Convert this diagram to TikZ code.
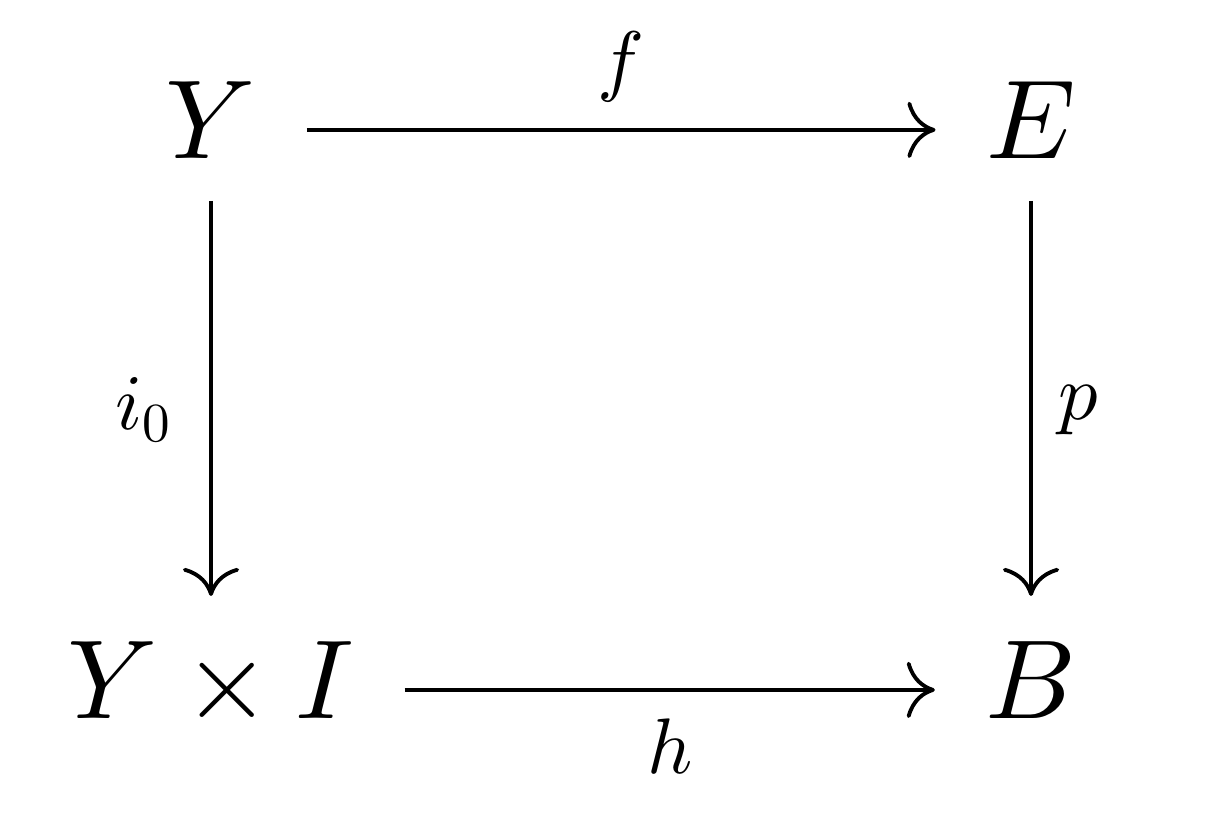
\documentclass[tikz,border=0pt]{standalone}
\usetikzlibrary{arrows.meta}
\DeclareFontShape{OML}{cmm}{m}{it}{<->cmmi10}{\skewchar\font'177}
\DeclareFontShape{OMS}{cmsy}{m}{n}{<->cmsy10}{\skewchar\font'60}
\DeclareFontShape{OT1}{cmr}{m}{n}{<->cmr10}{}
\begin{document}
\begin{tikzpicture}[
	font=\fontsize{32}{38}\selectfont,
	obj/.style={anchor=base, text height=24pt, text depth=8pt, inner xsep=0.5cm, inner ysep=0.14cm},
	map/.style={line width=1.1pt, -{To[length=8pt,width=16pt]}},
	lbl/.style={font=\fontsize{22.4}{27}\selectfont, inner sep=0.1cm}
]

	\useasboundingbox (0,0) rectangle (12.28,8.13);

	\node [obj] (Y)  at (2.11,6.55)  {$Y$};
	\node [obj] (E)  at (10.31,6.55) {$E$};
	\node [obj] (YI) at (2.11,0.95)  {$Y\times I$};
	\node [obj] (B)  at (10.31,0.95) {$B$};

	\draw [map] (Y) -- (E) node [lbl, above=0.16cm, midway] (lf) {$f$};
	\draw [map] (YI) -- (B) node [lbl, below=0.17cm, midway] (lh) {$h$};
	\draw [map, shorten >=0.23cm] (Y) -- (YI) node [lbl, left=0.27cm, midway] (li) {$i_0$};
	\draw [map, shorten >=0.23cm] (E) -- (B) node [lbl, right=0.16cm, midway] (lp) {$p$};

\end{tikzpicture}
\end{document}
